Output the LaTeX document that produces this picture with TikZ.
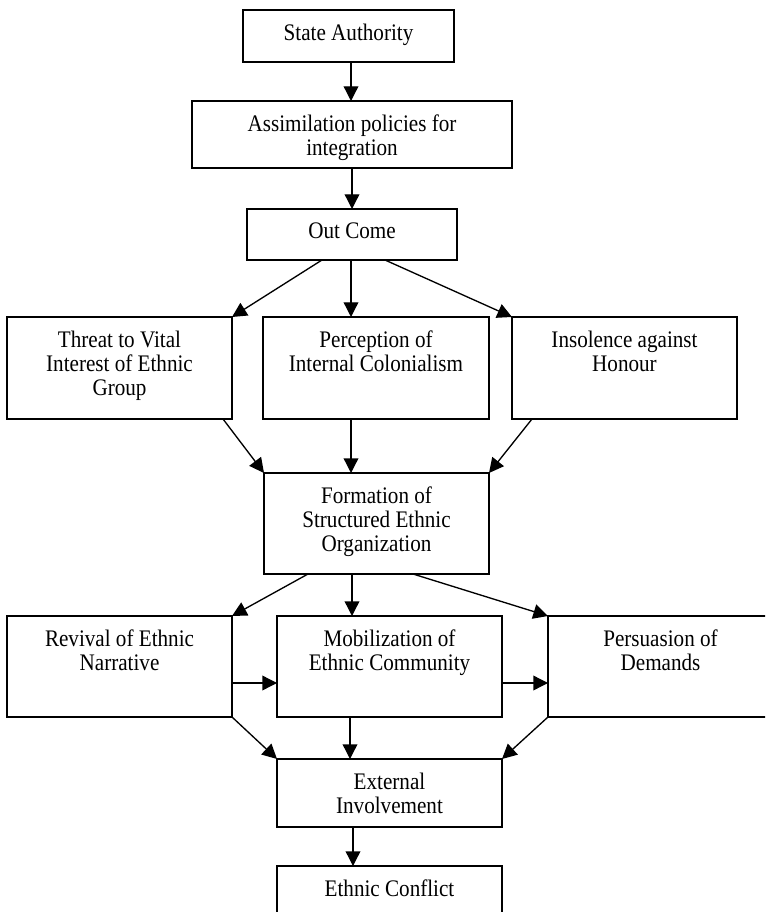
\documentclass[tikz,border=0pt]{standalone}
\usepackage{fontspec}
\setmainfont{Liberation Serif}[FakeStretch=0.89]
\usetikzlibrary{arrows.meta,calc}
\begin{document}
\begin{tikzpicture}[x=0.75pt,y=-0.75pt,
  bx/.style 2 args={draw, line width=1pt, minimum width=#1*0.75pt, minimum height=#2*0.75pt, anchor=north west, inner sep=0pt, outer sep=0pt},
  txt/.style={anchor=north, inner sep=0pt, align=center, font=\fontsize{17.8pt}{18pt}\selectfont},
  arr/.style={line width=1pt, -{Triangle[length=11pt,width=11pt]}}]
\useasboundingbox (0,0) rectangle (765,912);
\clip (0,0) rectangle (765,912);
% boxes
\node[bx={211}{52}]  (sa) at (243,10) {};
\node[bx={320}{67}]  (as) at (192,101) {};
\node[bx={210}{51}]  (oc) at (247,209) {};
\node[bx={225}{102}] (th) at (7,317) {};
\node[bx={226}{102}] (pe) at (263,317) {};
\node[bx={225}{102}] (in) at (512,317) {};
\node[bx={225}{101}] (fo) at (264,473) {};
\node[bx={225}{101}] (re) at (7,616) {};
\node[bx={225}{101}] (mo) at (277,616) {};
\node[bx={225}{101}] (ps) at (548,616) {};
\node[bx={225}{68}]  (ex) at (277,759) {};
\node[bx={225}{60}]  (ec) at (277,866) {};
% texts
\node[txt] (sat) at ([yshift=-10.4pt]sa.north) {State Authority};
\node[txt] (ast) at ([yshift=-10.4pt]as.north) {Assimilation policies for\\integration};
\node[txt] (oct) at ([yshift=-10.4pt]oc.north) {Out Come};
\node[txt] (tht) at ([yshift=-10.4pt]th.north) {Threat to Vital\\Interest of Ethnic\\Group};
\node[txt] (pet) at ([yshift=-10.4pt]pe.north) {Perception of\\Internal Colonialism};
\node[txt] (int) at ([yshift=-10.4pt]in.north) {Insolence against\\Honour};
\node[txt] (fot) at ([yshift=-10.4pt]fo.north) {Formation of\\Structured Ethnic\\Organization};
\node[txt] (ret) at ([yshift=-10.4pt]re.north) {Revival of Ethnic\\Narrative};
\node[txt] (mot) at ([yshift=-10.4pt]mo.north) {Mobilization of\\Ethnic Community};
\node[txt] (pst) at ([yshift=-10.4pt]ps.north) {Persuasion of\\Demands};
\node[txt] (ext) at ([yshift=-10.4pt]ex.north) {External\\Involvement};
\node[txt] (ect) at ([yshift=-10.4pt]ec.north) {Ethnic Conflict};
% connectors
\draw[arr] (351,0 |- sa.south) -- (351,0 |- as.north);
\draw[arr] (352,0 |- as.south) -- (352,0 |- oc.north);
\draw[arr] (322,0 |- oc.south) -- (th.north east);
\draw[arr] (351,0 |- oc.south) -- (351,0 |- pe.north);
\draw[arr] (385,0 |- oc.south) -- (in.north west);
\draw[arr] (223,0 |- th.south) -- (fo.north west);
\draw[arr] (351,0 |- pe.south) -- (351,0 |- fo.north);
\draw[arr] (532,0 |- in.south) -- (fo.north east);
\draw[arr] (308,0 |- fo.south) -- (re.north east);
\draw[arr] (352,0 |- fo.south) -- (352,0 |- mo.north);
\draw[arr] (413,0 |- fo.south) -- (ps.north west);
\draw[arr] (re.east |- 0,683) -- (mo.west |- 0,683);
\draw[arr] (mo.east |- 0,683) -- (ps.west |- 0,683);
\draw[arr] (re.south east) -- (ex.north west);
\draw[arr] (350,0 |- mo.south) -- (350,0 |- ex.north);
\draw[arr] (ps.south west) -- (ex.north east);
\draw[arr] (353,0 |- ex.south) -- (353,0 |- ec.north);
\end{tikzpicture}
\end{document}
